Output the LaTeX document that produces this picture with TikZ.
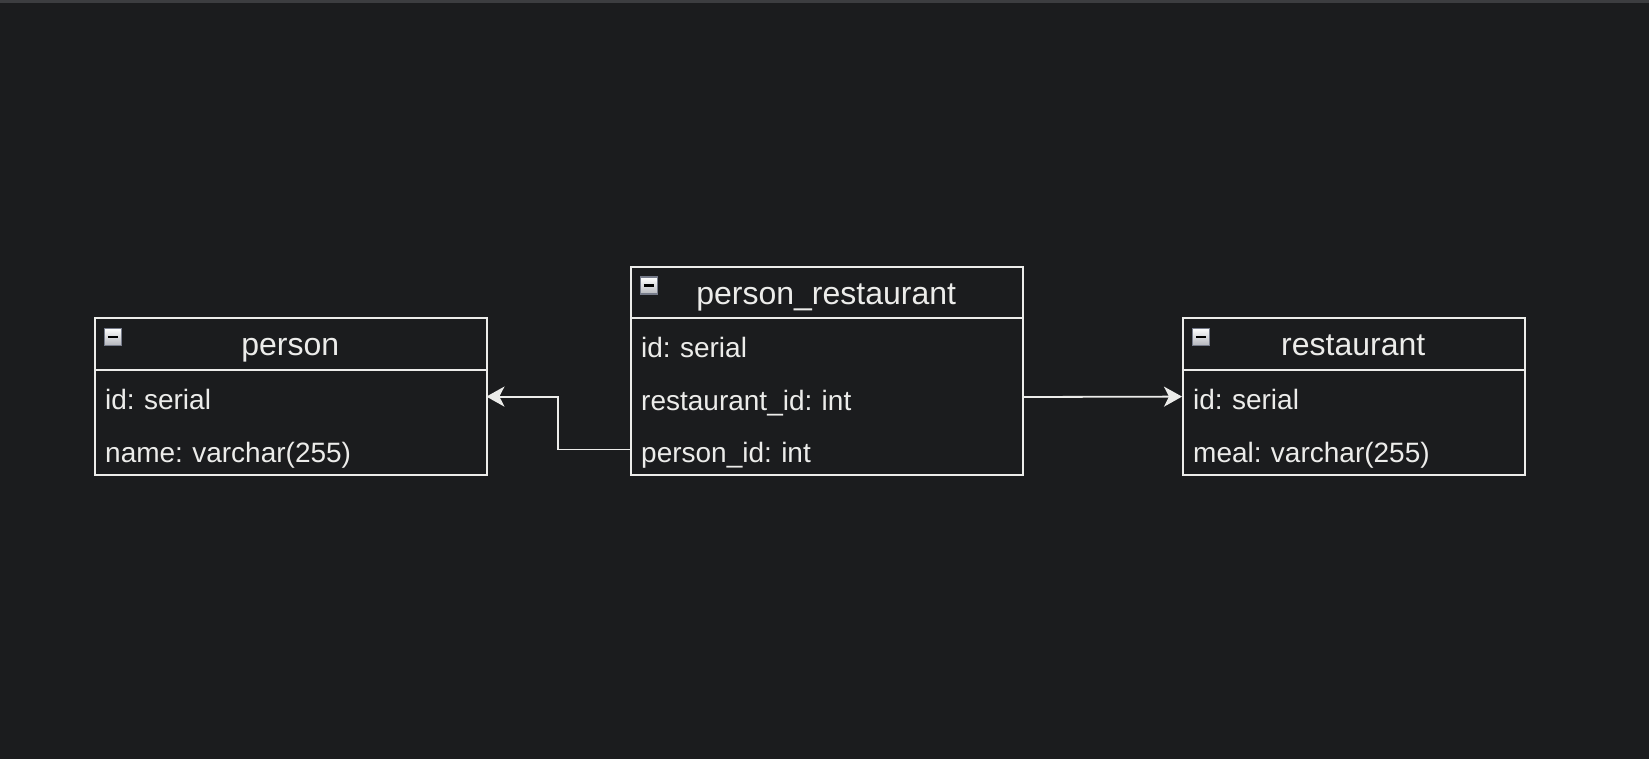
\documentclass[tikz,border=0pt]{standalone}
\usepackage{fontspec}
\setmainfont{Liberation Sans}
\usetikzlibrary{arrows.meta}
\definecolor{bg}{RGB}{27,28,30}
\definecolor{topbar}{RGB}{60,61,64}
\definecolor{fg}{RGB}{236,236,234}
\definecolor{iconedge}{RGB}{118,123,138}
\definecolor{iconlow}{RGB}{180,182,188}
\tikzset{
  tablebox/.style={draw=fg, line width=2pt, inner sep=0pt, anchor=north west},
  header/.style={inner sep=0pt, text height=24pt, text depth=0pt,
    font=\fontsize{32pt}{38pt}\selectfont, text=fg, anchor=north west, align=center},
  rowcell/.style={inner xsep=11pt, inner ysep=0pt, minimum height=52pt, text height=26pt,
    text depth=0pt, font=\fontsize{28pt}{34pt}\selectfont, text=fg, anchor=north west, align=left},
  sep/.style={draw=fg, line width=2pt},
  icon/.style={draw=iconedge, line width=1.6pt, top color=white, bottom color=iconlow,
    minimum size=17pt, inner sep=0pt, anchor=north west},
  minus/.style={draw=black, line width=2.6pt},
  conn/.style={draw=fg, line width=1.8pt, -{Stealth[length=18pt,width=20pt,inset=5pt]}}
}
\begin{document}
\frenchspacing
\begin{tikzpicture}[x=1pt,y=-1pt]
\useasboundingbox (0,0) rectangle (1649,759);
\fill[bg] (0,0) rectangle (1649,759);
\fill[topbar] (0,0) rectangle (1649,3);

% person
\node[tablebox, minimum width=392pt, minimum height=157pt] (person) at (94,317) {};
\node[header, text width=392pt, minimum height=53pt] (personHead) at (person.north west) {person};
\draw[sep] (personHead.south west) -- (personHead.south east);
\node[rowcell, text width=370pt] (personId) at (personHead.south west) {id: serial};
\node[rowcell, text width=370pt] (personName) at (personId.south west) {name: varchar(255)};
\node[icon] (personIcon) at (103.5,327.5) {};
\draw[minus] ([xshift=-5pt]personIcon.center) -- ([xshift=5pt]personIcon.center);

% person_restaurant
\node[tablebox, minimum width=392pt, minimum height=208pt] (pr) at (630,266) {};
\node[header, text width=392pt, minimum height=52pt] (prHead) at (pr.north west) {person\_restaurant};
\draw[sep] (prHead.south west) -- (prHead.south east);
\node[rowcell, text width=370pt] (prId) at (prHead.south west) {id: serial};
\node[rowcell, text width=370pt] (prRid) at (prId.south west) {restaurant\_id: int};
\node[rowcell, text width=370pt] (prPid) at (prRid.south west) {person\_id: int};
\node[icon] (prIcon) at (639.5,276.5) {};
\draw[minus] ([xshift=-5pt]prIcon.center) -- ([xshift=5pt]prIcon.center);

% restaurant
\node[tablebox, minimum width=342pt, minimum height=157pt] (rest) at (1182,317) {};
\node[header, text width=342pt, minimum height=53pt] (restHead) at (rest.north west) {restaurant};
\draw[sep] (restHead.south west) -- (restHead.south east);
\node[rowcell, text width=320pt] (restId) at (restHead.south west) {id: serial};
\node[rowcell, text width=320pt] (restMeal) at (restId.south west) {meal: varchar(255)};
\node[icon] (restIcon) at (1191.5,327.5) {};
\draw[minus] ([xshift=-5pt]restIcon.center) -- ([xshift=5pt]restIcon.center);

% connectors
\draw[conn] (prPid.west) -- ([xshift=-72pt]prPid.west) |- (personId.east);
\draw[conn] (prRid.east) -- (restId.west);
\end{tikzpicture}
\end{document}
